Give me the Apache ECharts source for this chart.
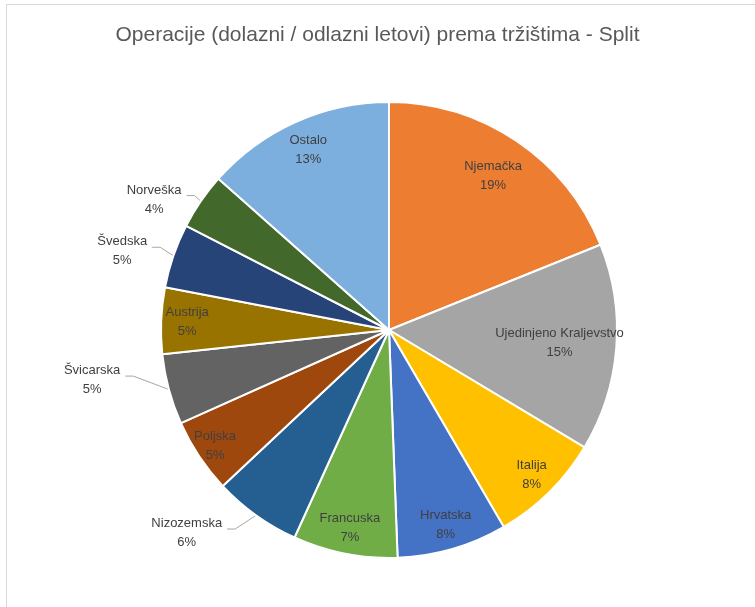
<!DOCTYPE html>
<html>
<head>
<meta charset="utf-8">
<script src="https://cdn.jsdelivr.net/npm/echarts@6/dist/echarts.min.js"></script>
<style>
  html, body { margin: 0; padding: 0; background: #fff; }
  #frame { position: absolute; left: 6px; top: 4px; width: 760px; height: 620px;
           border-left: 1px solid #d9d9d9; border-top: 1px solid #d9d9d9; }
  #chart { position: absolute; left: 0; top: 0; width: 755px; height: 607px; }
</style>
</head>
<body>
<div id="frame"></div>
<div id="chart"></div>
<script>
// markets, clockwise from 12 o'clock
var markets = ['Njemačka', 'Ujedinjeno Kraljevstvo', 'Italija', 'Hrvatska', 'Francuska',
  'Nizozemska', 'Poljska', 'Švicarska', 'Austrija', 'Švedska', 'Norveška', 'Ostalo'];
var shares = [18.9, 14.7, 8.0, 7.8, 7.4, 6.2, 5.3, 5.0, 4.7, 4.55, 4.0, 13.45];
var colours = ['#ED7D31', '#A5A5A5', '#FFC000', '#4472C4', '#70AD47', '#255E91',
  '#9E480E', '#636363', '#997300', '#264478', '#43682B', '#7CAFDD'];

// label placement (style only): inner ring radius for inside labels,
// leader lengths / vertical nudge for the ones Excel pushed outside
var CX = 389, CY = 330, R = 228;
var insideRing = {
  'Njemačka': 138, 'Ujedinjeno Kraljevstvo': 108, 'Italija': 172, 'Hrvatska': 172,
  'Francuska': 170, 'Poljska': 184, 'Austrija': 170, 'Ostalo': 160
};
var leaders = {
  'Nizozemska': [12, 22, 4], 'Švicarska': [10, 34, -16], 'Švedska': [14, 8, -4], 'Norveška': [10, 6, 0]
};

var chart = echarts.init(document.getElementById('chart'));

var labelText = function (p) {
  var pct = Math.round(p.percent) + '%';
  return '{t|' + p.name + '}\n{t|' + pct + '}';
};
var labelStyle = {
  show: true,
  formatter: labelText,
  color: '#404040',
  fontFamily: 'Liberation Sans, sans-serif',
  rich: {
    t: { fontSize: 13, lineHeight: 19, color: '#404040', align: 'center',
      fontFamily: 'Liberation Sans, sans-serif' }
  }
};

// one transparent ring per inside label, so each sits at its own radius
function ringSeries(name) {
  return {
    type: 'pie',
    center: [CX, CY],
    radius: [insideRing[name], R],
    startAngle: 90,
    clockwise: true,
    silent: true,
    avoidLabelOverlap: false,
    itemStyle: { color: 'rgba(0,0,0,0)' },
    label: Object.assign({}, labelStyle, { show: false, position: 'inside' }),
    labelLine: { show: false },
    data: markets.map(function (m, i) {
      return { name: m, value: shares[i], label: { show: m === name } };
    })
  };
}

var series = [{
  type: 'pie',
  center: [CX, CY],
  radius: R,
  startAngle: 90,
  clockwise: true,
  silent: true,
  itemStyle: { borderColor: '#fff', borderWidth: 2 },
  label: { show: false },
  labelLine: { show: false },
  data: markets.map(function (m, i) {
    return { name: m, value: shares[i], itemStyle: { color: colours[i] } };
  })
}];

Object.keys(insideRing).forEach(function (n) { series.push(ringSeries(n)); });

series.push({
  type: 'pie',
  center: [CX, CY],
  radius: R,
  startAngle: 90,
  clockwise: true,
  silent: true,
  avoidLabelOverlap: false,
  itemStyle: { color: 'rgba(0,0,0,0)' },
  label: Object.assign({}, labelStyle, {
    show: false, position: 'outside', padding: [8, 0, 0, 0]
  }),
  labelLine: { show: false, lineStyle: { color: '#a6a6a6', width: 1 } },
  // nudge a label up/down; leader runs straight from the slice and
  // ends with a short flat tail at the label, as Excel draws it
  labelLayout: function (p) {
    var l = leaders[markets[p.dataIndex]];
    if (!l || !p.labelLinePoints) return {};
    var d = l[2], pts = p.labelLinePoints;
    var end = [pts[2][0], pts[2][1] + d];
    var tail = pts[2][0] < pts[0][0] ? 8 : -8;
    return {
      dy: d,
      labelLinePoints: [pts[0], [end[0] + tail, end[1]], end]
    };
  },
  data: markets.map(function (m, i) {
    var l = leaders[m];
    return {
      name: m, value: shares[i],
      label: { show: !!l },
      labelLine: l ? { show: true, length: l[0], length2: l[1] } : { show: false }
    };
  })
});

chart.setOption({
  animation: false,
  title: {
    text: 'Operacije (dolazni / odlazni letovi) prema tržištima - Split',
    left: 'center',
    top: 20,
    textStyle: { color: '#595959', fontSize: 21, fontWeight: 'normal',
      fontFamily: 'Liberation Sans, sans-serif' }
  },
  series: series
});
</script>
</body>
</html>
